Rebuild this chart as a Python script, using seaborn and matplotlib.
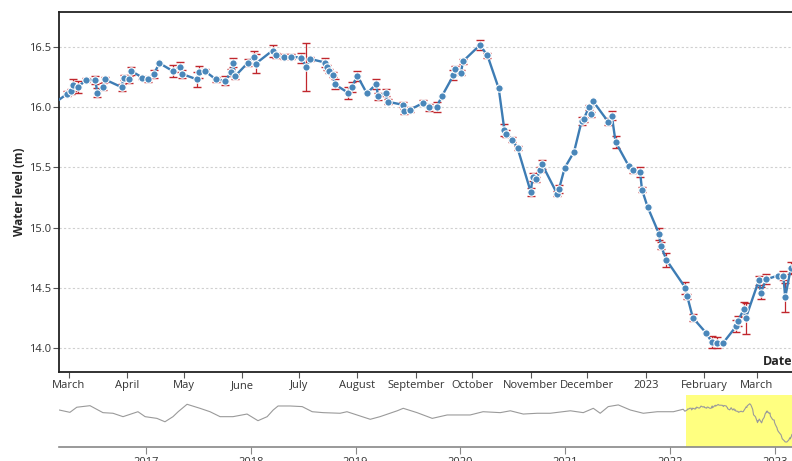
import pandas as pd
import matplotlib
matplotlib.use("Agg")
import matplotlib.pyplot as plt
import matplotlib.dates as mdates
import matplotlib.ticker as mticker
import seaborn as sns

# Observações recentes (vista detalhada)
datas = [
    "2022-02-21", "2022-02-28", "2022-03-02", "2022-03-03", "2022-03-06", "2022-03-10",
    "2022-03-15", "2022-03-16", "2022-03-19", "2022-03-20", "2022-03-29", "2022-03-30",
    "2022-04-02", "2022-04-03", "2022-04-09", "2022-04-12", "2022-04-15", "2022-04-18",
    "2022-04-25", "2022-04-29", "2022-04-30", "2022-05-08", "2022-05-09", "2022-05-12",
    "2022-05-18", "2022-05-23", "2022-05-26", "2022-05-27", "2022-05-28", "2022-06-04",
    "2022-06-07", "2022-06-08", "2022-06-17", "2022-06-19", "2022-06-23", "2022-06-27",
    "2022-07-02", "2022-07-05", "2022-07-07", "2022-07-15", "2022-07-16", "2022-07-17",
    "2022-07-19", "2022-07-20", "2022-07-27", "2022-07-29", "2022-08-01", "2022-08-06",
    "2022-08-11", "2022-08-12", "2022-08-16", "2022-08-17", "2022-08-25", "2022-08-26",
    "2022-08-29", "2022-09-05", "2022-09-08", "2022-09-12", "2022-09-15", "2022-09-21",
    "2022-09-22", "2022-09-25", "2022-09-26", "2022-10-05", "2022-10-09", "2022-10-15",
    "2022-10-18", "2022-10-19", "2022-10-22", "2022-10-25", "2022-11-01", "2022-11-02",
    "2022-11-04", "2022-11-06", "2022-11-07", "2022-11-15", "2022-11-16", "2022-11-19",
    "2022-11-24", "2022-11-28", "2022-11-29", "2022-12-02", "2022-12-03", "2022-12-04",
    "2022-12-12", "2022-12-14", "2022-12-16", "2022-12-23", "2022-12-25", "2022-12-29",
    "2022-12-30", "2023-01-02", "2023-01-08", "2023-01-09", "2023-01-12", "2023-01-22",
    "2023-01-23", "2023-01-26", "2023-02-02", "2023-02-05", "2023-02-08", "2023-02-11",
    "2023-02-18", "2023-02-19", "2023-02-22", "2023-02-23", "2023-03-02", "2023-03-03",
    "2023-03-06", "2023-03-12", "2023-03-15", "2023-03-16", "2023-03-19", "2023-03-21",
]
nivel = [
    16.03, 16.11, 16.13, 16.18, 16.17, 16.225,
    16.225, 16.12, 16.17, 16.23, 16.165, 16.245,
    16.23, 16.30, 16.245, 16.23, 16.275, 16.365,
    16.30, 16.335, 16.275, 16.23, 16.295, 16.30,
    16.23, 16.22, 16.29, 16.37, 16.255, 16.37,
    16.42, 16.36, 16.47, 16.43, 16.42, 16.42,
    16.41, 16.335, 16.40, 16.37, 16.33, 16.30,
    16.27, 16.19, 16.12, 16.165, 16.26, 16.115,
    16.19, 16.09, 16.12, 16.045, 16.02, 15.965,
    15.98, 16.035, 16.00, 16.00, 16.095, 16.265,
    16.315, 16.285, 16.38, 16.515, 16.43, 16.155,
    15.81, 15.78, 15.73, 15.66, 15.295, 15.42,
    15.40, 15.48, 15.525, 15.28, 15.32, 15.495,
    15.63, 15.885, 15.90, 16.00, 15.94, 16.05,
    15.88, 15.93, 15.71, 15.51, 15.475, 15.46,
    15.315, 15.17, 14.95, 14.85, 14.73, 14.50,
    14.43, 14.25, 14.125, 14.05, 14.045, 14.04,
    14.18, 14.225, 14.32, 14.245, 14.56, 14.46,
    14.57, 14.60, 14.60, 14.42, 14.665, 14.68,
]
erro = [
    0.0, 0.02, 0.02, 0.05, 0.05, 0.02,
    0.03, 0.035, 0.03, 0.02, 0.03, 0.02,
    0.03, 0.03, 0.015, 0.02, 0.035, 0.0,
    0.05, 0.04, 0.03, 0.06, 0.05, 0.02,
    0.02, 0.04, 0.03, 0.04, 0.02, 0.03,
    0.05, 0.08, 0.05, 0.02, 0.02, 0.02,
    0.04, 0.2, 0.02, 0.04, 0.02, 0.02,
    0.02, 0.04, 0.05, 0.04, 0.04, 0.0,
    0.04, 0.03, 0.03, 0.02, 0.02, 0.02,
    0.02, 0.02, 0.03, 0.04, 0.0, 0.04,
    0.03, 0.02, 0.02, 0.04, 0.02, 0.0,
    0.05, 0.03, 0.02, 0.02, 0.03, 0.03,
    0.02, 0.02, 0.035, 0.02, 0.03, 0.0,
    0.0, 0.03, 0.02, 0.02, 0.02, 0.0,
    0.03, 0.04, 0.05, 0.0, 0.02, 0.04,
    0.02, 0.0, 0.05, 0.03, 0.06, 0.05,
    0.02, 0.03, 0.0, 0.05, 0.045, 0.0,
    0.05, 0.04, 0.06, 0.13, 0.04, 0.05,
    0.04, 0.0, 0.04, 0.12, 0.05, 0.0,
]

# Série histórica (vista de contexto, antes do período detalhado)
datas_hist = [
    "2016-03-05", "2016-04-11", "2016-05-05", "2016-06-20", "2016-07-13", "2016-08-04",
    "2016-09-08", "2016-10-13", "2016-11-17", "2016-12-04", "2016-12-29", "2017-02-08",
    "2017-03-08", "2017-04-05", "2017-04-23", "2017-05-24", "2017-07-08", "2017-08-12",
    "2017-09-16", "2017-10-31", "2017-12-19", "2018-01-26", "2018-02-27", "2018-03-20",
    "2018-04-06", "2018-05-18", "2018-06-29", "2018-08-03", "2018-09-10", "2018-11-08",
    "2018-12-02", "2019-01-06", "2019-02-21", "2019-03-27", "2019-05-01", "2019-05-26",
    "2019-06-16", "2019-08-03", "2019-09-25", "2019-11-16", "2020-02-04", "2020-03-20",
    "2020-05-19", "2020-06-23", "2020-08-07", "2020-09-25", "2020-11-09", "2021-01-18",
    "2021-03-04", "2021-04-08", "2021-05-02", "2021-05-30", "2021-07-04", "2021-08-15",
    "2021-09-29", "2021-11-17", "2022-01-12", "2022-02-15",
]
nivel_hist = [
    16.11, 15.96, 16.29, 16.39, 16.16, 15.94,
    15.90, 15.68, 15.90, 16.00, 15.68, 15.57,
    15.35, 15.68, 16.00, 16.48, 16.22, 16.00,
    15.68, 15.68, 15.85, 15.42, 15.68, 16.11,
    16.37, 16.37, 16.33, 16.00, 15.94, 15.90,
    16.00, 15.79, 15.51, 15.68, 15.90, 16.06,
    16.22, 15.94, 15.57, 15.79, 15.79, 16.00,
    15.94, 16.06, 15.85, 15.90, 15.90, 16.06,
    15.94, 16.22, 15.90, 16.33, 16.44, 16.11,
    15.90, 16.00, 16.00, 16.16,
]

df = pd.DataFrame({"data": pd.to_datetime(datas), "nivel": nivel, "erro": erro})
df_ctx = pd.concat([
    pd.DataFrame({"data": pd.to_datetime(datas_hist), "nivel": nivel_hist}),
    df[["data", "nivel"]],
], ignore_index=True)

sns.set_style("white")
plt.rcParams["font.family"] = ["Open Sans", "DejaVu Sans"]

fig = plt.figure(figsize=(7.92, 4.61), dpi=100)
ax = fig.add_axes([59 / 792, 1 - 372 / 461, 1 - 59 / 792, 360 / 461])
ax_ctx = fig.add_axes([59 / 792, 1 - 447 / 461, 1 - 59 / 792, 52 / 461])

azul = "#3d7cb4"
vermelho = "#c1272d"

# Gráfico principal
com_erro = df[df["erro"] > 0]
ax.errorbar(com_erro["data"], com_erro["nivel"], yerr=com_erro["erro"], fmt="none",
            ecolor=vermelho, elinewidth=0.9, capsize=3, capthick=1, zorder=2)
sns.lineplot(data=df, x="data", y="nivel", ax=ax, estimator=None, color=azul, lw=1.7,
             marker="o", markersize=5.3, markerfacecolor="#4a87ba",
             markeredgecolor="white", markeredgewidth=0.8, zorder=3)

inicio = pd.Timestamp("2022-03-01") - pd.Timedelta(days=5.3)
fim = pd.Timestamp("2022-03-01") + pd.Timedelta(days=383.6)
ax.set_xlim(inicio, fim)
ax.set_ylim(13.8, 16.79)
ax.set_yticks([14.0, 14.5, 15.0, 15.5, 16.0, 16.5])
ax.yaxis.set_major_formatter(mticker.FormatStrFormatter("%.1f"))
ax.yaxis.grid(True, linestyle=(0, (2, 2)), color="#d0d0d0", lw=0.8)
ax.xaxis.grid(False)


def rotulo_mes(x, pos):
    d = mdates.num2date(x)
    return str(d.year) if d.month == 1 else d.strftime("%B")


ax.xaxis.set_major_locator(mdates.MonthLocator())
ax.xaxis.set_major_formatter(mticker.FuncFormatter(rotulo_mes))
ax.tick_params(axis="both", which="major", direction="out", length=4, width=0.8,
               color="#555555", labelsize=8, labelcolor="#333333", pad=2)
ax.tick_params(axis="x", bottom=True)
ax.tick_params(axis="y", left=True)
for lado in ["left", "bottom", "top"]:
    ax.spines[lado].set_color("#222222")
    ax.spines[lado].set_linewidth(1.3)
ax.spines["right"].set_visible(False)
ax.set_xlabel("")
ax.set_ylabel("Water level (m)", fontsize=8.5, fontweight="bold", labelpad=1.5)
ax.text(0.96, 0.03, "Date", transform=ax.transAxes, fontsize=9, fontweight="bold",
        ha="left", va="center")

# Vista de contexto
ax_ctx.axvspan(inicio, fim, color="#ffff80", zorder=0, lw=0)
sns.lineplot(data=df_ctx, x="data", y="nivel", ax=ax_ctx, estimator=None,
             color="#9a9a9a", lw=0.8, zorder=2)
ax_ctx.set_xlim(pd.Timestamp("2016-03-04"), pd.Timestamp("2023-03-01"))
ax_ctx.set_ylim(13.72, 17.08)
ax_ctx.set_yticks([])
ax_ctx.xaxis.set_major_locator(mdates.YearLocator())
ax_ctx.xaxis.set_major_formatter(mdates.DateFormatter("%Y"))
ax_ctx.tick_params(axis="x", bottom=True, direction="out", length=5, width=0.8,
                   color="#888888", labelsize=8, labelcolor="#333333", pad=2)
for lado in ["left", "top", "right"]:
    ax_ctx.spines[lado].set_visible(False)
ax_ctx.spines["bottom"].set_color("#888888")
ax_ctx.spines["bottom"].set_linewidth(1.2)
ax_ctx.set_xlabel("")
ax_ctx.set_ylabel("")

plt.savefig("out.png", dpi=100)
plt.close()
